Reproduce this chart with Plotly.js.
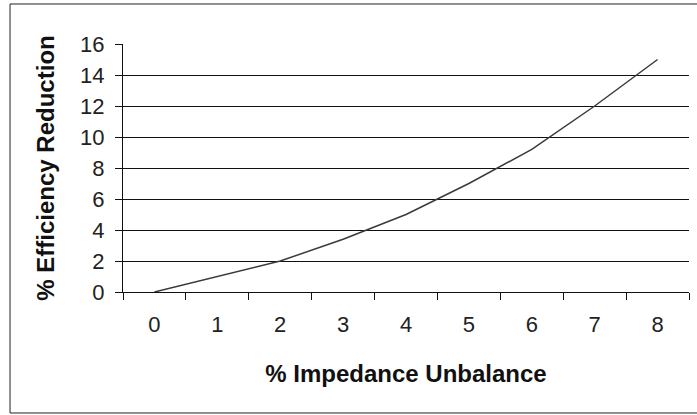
<!DOCTYPE html>
<html>
<head>
<meta charset="utf-8">
<script src="https://cdn.plot.ly/plotly-3.0.1.min.js"></script>
<style>
  html, body { margin: 0; padding: 0; background: #ffffff; }
  #chart { width: 697px; height: 415px; }
</style>
</head>
<body>
<div id="chart"></div>
<script>
// Data
const categories = ['0', '1', '2', '3', '4', '5', '6', '7', '8'];
const efficiencyReduction = [0, 1, 2, 3.4, 5, 7, 9.2, 12, 15];
const yTickValues = [0, 2, 4, 6, 8, 10, 12, 14, 16];
const xTitle = '% Impedance Unbalance';
const yTitle = '% Efficiency Reduction';

const trace = {
  type: 'scatter',
  mode: 'lines',
  x: categories,
  y: efficiencyReduction,
  line: { color: '#3a3a3a', width: 1.5 },
  hoverinfo: 'x+y',
  showlegend: false
};

const layout = {
  width: 697,
  height: 415,
  margin: { l: 123, r: 8, t: 44, b: 123, pad: 0 },
  paper_bgcolor: '#ffffff',
  plot_bgcolor: '#ffffff',
  font: { family: 'Arial, "Liberation Sans", sans-serif', color: '#222222' },
  xaxis: {
    type: 'category',
    range: [-0.5, 8.5],
    tickson: 'boundaries',
    ticks: 'outside',
    ticklen: 7,
    tickwidth: 1,
    tickcolor: '#111111',
    showline: true,
    linecolor: '#111111',
    linewidth: 1,
    showgrid: false,
    zeroline: false,
    tickfont: { size: 22, color: '#222222' },
    ticklabelstandoff: 13,
    title: {
      text: xTitle,
      font: { size: 24, color: '#111111', weight: 'bold' },
      standoff: 28
    },
    automargin: false,
    fixedrange: true
  },
  yaxis: {
    range: [0, 16],
    tickmode: 'array',
    tickvals: yTickValues,
    ticktext: yTickValues.map(String),
    ticks: 'outside',
    ticklen: 7,
    tickwidth: 1,
    tickcolor: '#111111',
    showline: true,
    linecolor: '#111111',
    linewidth: 1,
    showgrid: true,
    gridcolor: '#111111',
    gridwidth: 1,
    zeroline: false,
    tickfont: { size: 22, color: '#222222' },
    ticklabelstandoff: 6,
    title: {
      text: yTitle,
      font: { size: 24, color: '#111111', weight: 'bold' },
      standoff: 18
    },
    automargin: false,
    fixedrange: true
  },
  shapes: [
    {
      type: 'rect',
      xref: 'paper', yref: 'paper',
      x0: -0.1996, x1: 1.06,
      y0: -0.4879, y1: 1.1613,
      line: { color: '#222222', width: 1 },
      fillcolor: 'rgba(0,0,0,0)',
      layer: 'below'
    }
  ]
};

Plotly.newPlot('chart', [trace], layout, { staticPlot: true, displayModeBar: false });
</script>
</body>
</html>
